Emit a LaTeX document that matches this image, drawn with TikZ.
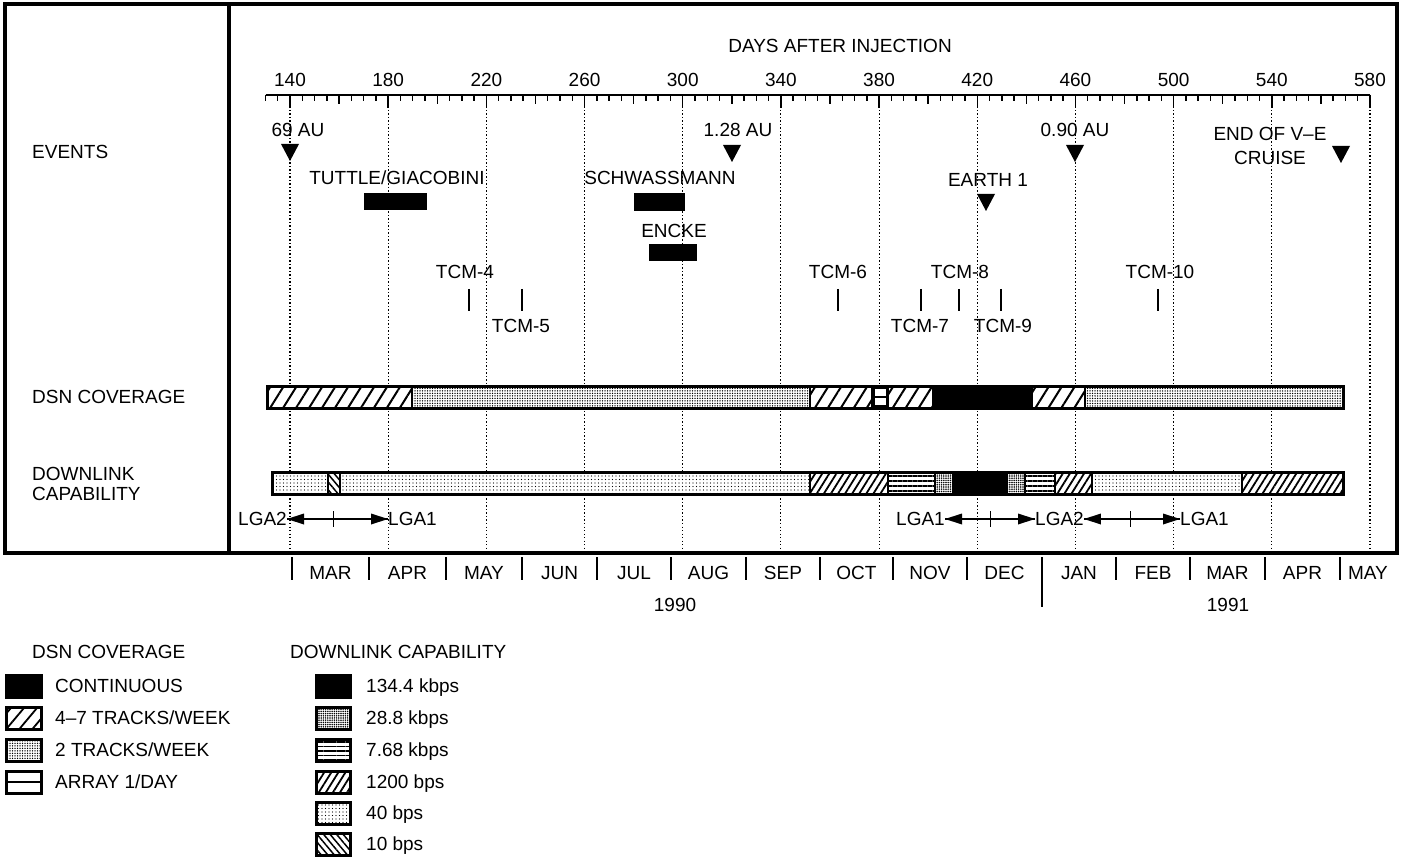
\documentclass[tikz,border=0pt]{standalone}
\usepackage{fontspec}
\setmainfont{Liberation Sans}
\usetikzlibrary{patterns.meta,arrows.meta}
\begin{document}
\begin{tikzpicture}[x=1pt,y=-1pt,
  every node/.style={inner sep=0pt, text height=13.6pt, text depth=0pt, font=\fontsize{19}{22}\selectfont},
  frameline/.style={line width=3.2pt},
  axisln/.style={line width=1.6pt},
  tickln/.style={line width=1.4pt},
  gridln/.style={line width=1.1pt, dash pattern=on 1.1pt off 2.4pt},
  tri/.pic={\fill (-9,0) -- (9,0) -- (0,17) -- cycle;},
  ltip/.pic={\fill (0,0) -- (17,-5.5) -- (17,5.5) -- cycle;},
  rtip/.pic={\fill (0,0) -- (-17,-5.5) -- (-17,5.5) -- cycle;},
  evbar/.style={fill=black},
  tcmln/.style={line width=2.6pt},
  segln/.style={line width=1.4pt},
  barframe/.style={line width=3pt},
  hatchw/.style={pattern={Lines[angle=58,distance=11pt,line width=2pt]}},
  hatchn/.style={pattern={Lines[angle=58,distance=6pt,line width=1.8pt]}},
  hatchb/.style={pattern={Lines[angle=-50,distance=5pt,line width=1.5pt]}},
  hlines/.style={pattern={Lines[angle=0,distance=5pt,line width=1.6pt]}},
  dotsm/.style={pattern={Dots[distance=2.5pt,radius=0.75pt]}},
  dotsl/.style={pattern={Dots[distance=3.5pt,radius=0.65pt]}},
  dotsd/.style={pattern={Dots[distance=2.2pt,radius=0.85pt]}},
  lgaline/.style={line width=1.3pt},
  lgatick/.style={line width=1pt},
  legbox/.style={draw, line width=3pt},
]
\useasboundingbox (0,0) rectangle (1409,861);

% dotted grid lines
\foreach \d in {140,180,...,580}
  \draw[gridln] ({290+(\d-140)*2.4545},110) -- ({290+(\d-140)*2.4545},553);

% frame
\draw[frameline] (5,4) rectangle (1397,553);
\draw[frameline] (229,4) -- (229,553);

% left labels
\node[anchor=west] (levents) at (32,152) {EVENTS};
\node[anchor=west] (ldsn) at (32,397) {DSN COVERAGE};
\node[anchor=west] (ldl1) at (32,474) {DOWNLINK};
\node[anchor=west] (ldl2) at (32,494) {CAPABILITY};

% axis
\node (title) at (840,46) {DAYS AFTER INJECTION};
\draw[axisln] (265.5,95) -- (1370,95);
\foreach \d in {130,135,...,580}
  \draw[tickln] ({290+(\d-140)*2.4545},95) -- ++(0,6);
\foreach \d in {160,200,...,560}
  \draw[tickln] ({290+(\d-140)*2.4545},95) -- ++(0,9);
\foreach \d in {140,180,...,580}{
  \draw[tickln] ({290+(\d-140)*2.4545},95) -- ++(0,13);
  \node (t\d) at ({290+(\d-140)*2.4545},80) {\d};
}

% events: distances
\node (au69) at (298,130) {69 AU};
\pic at (290,144) {tri};
\node (au128) at (738,130) {1.28 AU};
\pic at (732,145) {tri};
\node (au090) at (1075,130) {0.90 AU};
\pic at (1075,145) {tri};
\node (endve) at (1270,134) {END OF V\textendash E};
\node (cruise) at (1270,158) {CRUISE};
\pic at (1341,146) {tri};
\node (earth) at (988,180) {EARTH 1};
\pic at (986,194) {tri};

% comets
\node (tut) at (397,178) {TUTTLE/GIACOBINI};
\fill[evbar] (364,193) rectangle (427,210);
\node (sch) at (660,178) {SCHWASSMANN};
\fill[evbar] (634,193) rectangle (685,211);
\node (enc) at (674,231) {ENCKE};
\fill[evbar] (649,244) rectangle (697,261);

% TCMs
\node (tcm4) at (465,272) {TCM-4};
\draw[tcmln] (469,289) -- (469,311);
\draw[tcmln] (522,289) -- (522,311);
\node (tcm5) at (521,326) {TCM-5};
\node (tcm6) at (838,272) {TCM-6};
\draw[tcmln] (838,289) -- (838,311);
\draw[tcmln] (921,289) -- (921,311);
\node (tcm7) at (920,326) {TCM-7};
\node (tcm8) at (960,272) {TCM-8};
\draw[tcmln] (959,289) -- (959,311);
\draw[tcmln] (1001,289) -- (1001,311);
\node (tcm9) at (1003,326) {TCM-9};
\node (tcm10) at (1160,272) {TCM-10};
\draw[tcmln] (1158,289) -- (1158,311);

% DSN coverage bar
\fill[white] (267,386) rectangle (1343,408);
\path[hatchw] (267,386) rectangle (412,408);
\path[dotsm] (412,386) rectangle (810,408);
\path[hatchw] (810,386) rectangle (872,408);
\draw[segln] (874,388) rectangle (887,406);
\draw[segln] (874,397) -- (887,397);
\path[hatchw] (888,386) rectangle (933,408);
\fill (933,386) rectangle (1032,408);
\path[hatchw] (1032,386) rectangle (1085,408);
\path[dotsm] (1085,386) rectangle (1343,408);
\foreach \x in {412,810,872,888,933,1032,1085}
  \draw[segln] (\x,386) -- (\x,408);
\draw[barframe] (267,386) rectangle (1343,408);

% Downlink bar
\fill[white] (272,472) rectangle (1343,494);
\path[dotsl] (272,472) rectangle (328,494);
\path[hatchb] (328,472) rectangle (340,494);
\path[dotsl] (340,472) rectangle (810,494);
\path[hatchn] (810,472) rectangle (888,494);
\path[hlines] (888,472) rectangle (935,494);
\path[dotsd] (935,472) rectangle (953,494);
\fill (953,472) rectangle (1007,494);
\path[dotsd] (1007,472) rectangle (1025,494);
\path[hlines] (1025,472) rectangle (1055,494);
\path[hatchn] (1055,472) rectangle (1092,494);
\path[dotsl] (1092,472) rectangle (1242,494);
\path[hatchn] (1242,472) rectangle (1343,494);
\foreach \x in {328,340,810,888,935,953,1007,1025,1055,1092,1242}
  \draw[segln] (\x,472) -- (\x,494);
\draw[barframe] (272,472) rectangle (1343,494);

% LGA switches
\node[anchor=east] (lgaA) at (287,519) {LGA2};
\node[anchor=west] (lgaB) at (388,519) {LGA1};
\coordinate (swA) at (333,519);
\draw[lgatick] (333,511) -- (333,527);
\draw[lgaline] (swA) -- (lgaA.east);
\pic at (lgaA.east) {ltip};
\draw[lgaline] (swA) -- (lgaB.west);
\pic at (lgaB.west) {rtip};
\node[anchor=east] (lgaC) at (945,519) {LGA1};
\node[anchor=west] (lgaD) at (1035,519) {LGA2};
\node[anchor=west] (lgaE) at (1180,519) {LGA1};
\coordinate (swB) at (990,519);
\coordinate (swC) at (1130,519);
\draw[lgatick] (990,511) -- (990,527);
\draw[lgatick] (1130,511) -- (1130,527);
\draw[lgaline] (swB) -- (lgaC.east);
\pic at (lgaC.east) {ltip};
\draw[lgaline] (swB) -- (lgaD.west);
\pic at (lgaD.west) {rtip};
\draw[lgaline] (swC) -- (lgaD.east);
\pic at (lgaD.east) {ltip};
\draw[lgaline] (swC) -- (lgaE.west);
\pic at (lgaE.west) {rtip};

% months
\foreach \x in {292,369,446,522,597,671,746,820,893,967,1042,1116,1190,1265,1340}
  \draw[tickln] (\x,557) -- (\x,580);
\draw[tickln] (1042,580) -- (1042,607);
\foreach \x/\m in {330.5/MAR,407.5/APR,484/MAY,559.5/JUN,634/JUL,708.5/AUG,783/SEP,856.5/OCT,930/NOV,1004.5/DEC,1079/JAN,1153/FEB,1227.5/MAR,1302.5/APR,1368/MAY}
  \node at (\x,573) {\m};
\node (y1990) at (675,605) {1990};
\node (y1991) at (1228,605) {1991};

% legend: DSN coverage
\node[anchor=west] (legdsn) at (32,652) {DSN COVERAGE};
\fill (6,675) rectangle (41,697);
\draw[legbox] (6,675) rectangle (41,697);
\node[anchor=west] at (55,686) {CONTINUOUS};
\fill[white] (6,707) rectangle (41,729);
\path[pattern={Lines[angle=50,distance=10pt,line width=1.8pt]}] (6,707) rectangle (41,729);
\draw[legbox] (6,707) rectangle (41,729);
\node[anchor=west] at (55,718) {4\textendash 7 TRACKS/WEEK};
\path[dotsm] (6,739) rectangle (41,761);
\draw[legbox] (6,739) rectangle (41,761);
\node[anchor=west] at (55,750) {2 TRACKS/WEEK};
\draw[legbox] (6,771) rectangle (41,793);
\draw[segln] (6,782) -- (41,782);
\node[anchor=west] at (55,782) {ARRAY 1/DAY};

% legend: downlink
\node[anchor=west] (legdl) at (290,652) {DOWNLINK CAPABILITY};
\fill (316,675) rectangle (350,697);
\draw[legbox] (316,675) rectangle (350,697);
\node[anchor=west] at (366,686) {134.4 kbps};
\path[dotsd] (316,707) rectangle (350,729);
\draw[legbox] (316,707) rectangle (350,729);
\node[anchor=west] at (366,718) {28.8 kbps};
\path[pattern={Lines[angle=0,distance=4.4pt,line width=1.5pt]}] (316,739) rectangle (350,761);
\draw[legbox] (316,739) rectangle (350,761);
\node[anchor=west] at (366,750) {7.68 kbps};
\path[hatchn] (316,771) rectangle (350,793);
\draw[legbox] (316,771) rectangle (350,793);
\node[anchor=west] at (366,782) {1200 bps};
\path[dotsl] (316,802) rectangle (350,824);
\draw[legbox] (316,802) rectangle (350,824);
\node[anchor=west] at (366,813) {40 bps};
\path[hatchb] (316,833) rectangle (350,855);
\draw[legbox] (316,833) rectangle (350,855);
\node[anchor=west] at (366,844) {10 bps};
\end{tikzpicture}
\end{document}
